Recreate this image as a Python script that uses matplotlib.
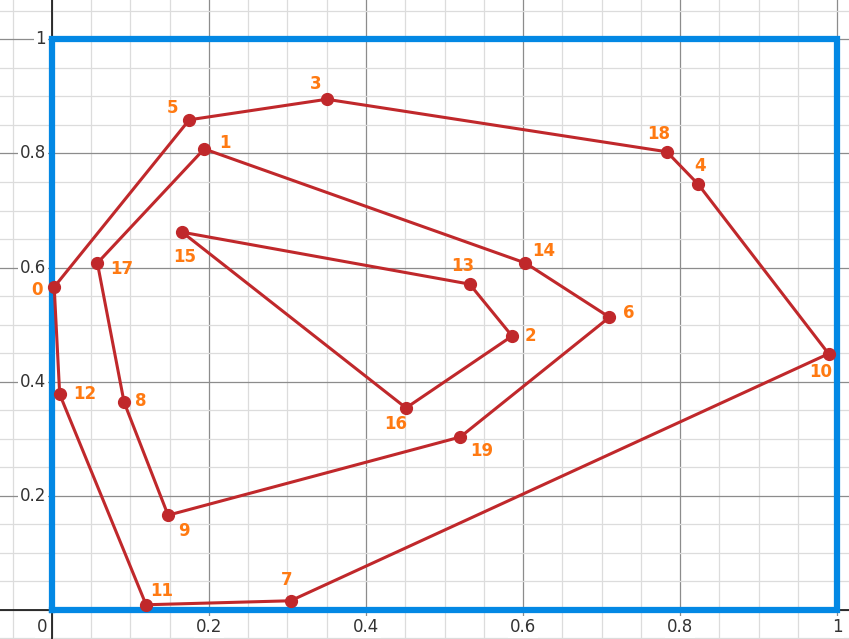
import matplotlib
matplotlib.use("Agg")
import matplotlib.pyplot as plt

# point coordinates, index = label
xs = [0.003, 0.194, 0.586, 0.350, 0.823, 0.175, 0.710, 0.304, 0.092, 0.148,
      0.989, 0.120, 0.010, 0.532, 0.603, 0.166, 0.451, 0.058, 0.783, 0.520]
ys = [0.566, 0.808, 0.480, 0.895, 0.746, 0.859, 0.513, 0.016, 0.364, 0.166,
      0.449, 0.009, 0.378, 0.571, 0.608, 0.662, 0.354, 0.608, 0.803, 0.303]

# the three closed paths through the points
outer = [0, 5, 3, 18, 4, 10, 7, 11, 12, 0]
middle = [1, 17, 8, 9, 19, 6, 14, 1]
inner = [15, 13, 2, 16, 15]
paths = [outer, middle, inner]

xticks = [0.2, 0.4, 0.6, 0.8, 1]
yticks = [0.2, 0.4, 0.6, 0.8, 1]

# label offsets in pixels (dx, dy with y up)
offs = {0: (-17, -3), 1: (21, 6), 2: (18, 0), 3: (-11, 15), 4: (2, 18),
        5: (-17, 12), 6: (19, 4), 7: (-4, 21), 8: (17, 1), 9: (16, -16),
        10: (-8, -18), 11: (16, 14), 12: (25, 0), 13: (-7, 18), 14: (18, 12),
        15: (2, -25), 16: (-10, -16), 17: (24, -6), 18: (-8, 18), 19: (22, -14)}

fig = plt.figure(figsize=(8.49, 6.39), dpi=100)
ax = fig.add_axes([0, 0, 1, 1])
ax.set_xlim(-0.066, 1.015)
ax.set_ylim(-0.051, 1.069)

ax.set_xticks([i * 0.2 for i in range(0, 6)])
ax.set_yticks([i * 0.2 for i in range(0, 6)])
ax.set_xticks([i * 0.05 for i in range(-1, 21)], minor=True)
ax.set_yticks([i * 0.05 for i in range(-1, 22)], minor=True)
ax.grid(which="major", color="#8c8c8c", lw=0.9)
ax.grid(which="minor", color="#dcdcdc", lw=0.9)
ax.tick_params(which="both", length=0, labelbottom=False, labelleft=False)
for s in ax.spines.values():
    s.set_visible(False)
ax.set_axisbelow(True)

ax.axhline(0, color="#222222", lw=1.3, zorder=1)
ax.axvline(0, color="#222222", lw=1.3, zorder=1)

# tick labels Desmos style
lbl = dict(fontsize=12, color="#333333", zorder=2,
           bbox=dict(boxstyle="square,pad=0.1", fc="white", ec="none"))
for t in xticks:
    ax.annotate("%g" % t, (t, 0), xytext=(0, -17), textcoords="offset pixels",
                ha="center", va="center", **lbl)
for t in yticks:
    ax.annotate("%g" % t, (0, t), xytext=(-6, 0), textcoords="offset pixels",
                ha="right", va="center", **lbl)
ax.annotate("0", (0, 0), xytext=(-10, -17), textcoords="offset pixels",
            ha="center", va="center", **lbl)

ax.plot([0, 1, 1, 0, 0], [0, 0, 1, 1, 0], color="#0388e4", lw=4.5,
        solid_joinstyle="miter", zorder=3)

for p in paths:
    ax.plot([xs[i] for i in p], [ys[i] for i in p], color="#c0282b", lw=2.2,
            zorder=4)
ax.plot(xs, ys, "o", color="#c0282b", ms=8.5, zorder=5)

for i in range(len(xs)):
    ax.annotate(str(i), (xs[i], ys[i]), xytext=offs[i], textcoords="offset pixels",
                ha="center", va="center", fontsize=12, fontweight="bold",
                color="#ff7a12", zorder=6)

fig.savefig("out.png", dpi=100)
